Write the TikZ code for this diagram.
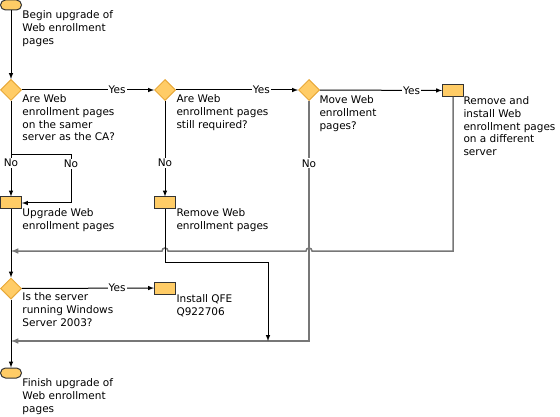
\documentclass[tikz,border=0pt]{standalone}
\usepackage{fontspec}
\setmainfont{DejaVu Sans}
\usetikzlibrary{shapes.geometric}
\definecolor{boxfill}{HTML}{FFCC66}
\definecolor{diaedge}{HTML}{E8A838}
\definecolor{backline}{HTML}{777777}
\begin{document}
\begin{tikzpicture}[x=1pt,y=-1pt,
  term/.style={draw=black!80,fill=boxfill,rounded corners=5pt,minimum width=21pt,minimum height=10pt,inner sep=0pt},
  proc/.style={draw=black!80,fill=boxfill,minimum width=21pt,minimum height=12pt,inner sep=0pt},
  decide/.style={diamond,draw=diaedge,fill=boxfill,minimum width=21pt,minimum height=21pt,inner sep=0pt},
  txt/.style={anchor=north west,align=left,inner sep=0pt,font=\fontsize{10.5}{12.8}\selectfont},
  lbl/.style={fill=white,text=black,inner sep=1pt,font=\fontsize{10.5}{12}\selectfont},
  back/.style={backline,line width=1.5pt},
  line width=1pt]
\useasboundingbox (0,0) rectangle (560,417);
\node [term] (start) at (11,5) {};
\node [decide] (d1) at (11,90) {};
\node [decide] (d2) at (165,90) {};
\node [decide] (d3) at (309,90) {};
\node [proc] (b4) at (453,90.5) {};
\node [proc] (bup) at (11,203) {};
\node [proc] (brm) at (165,203) {};
\node [decide] (d4) at (11,288.5) {};
\node [proc] (bqfe) at (165,288) {};
\node [term] (finish) at (11,373) {};
\node [txt] (tstart) at (22,10) {Begin upgrade of\\Web enrollment\\pages};
\node [txt] (td1) at (22,94) {Are Web\\enrollment pages\\on the samer\\server as the CA?};
\node [txt] (td2) at (176,94) {Are Web\\enrollment pages\\still required?};
\node [txt] (td3) at (319,95) {Move Web\\enrollment\\pages?};
\node [txt] (tb4) at (463,96) {Remove and\\install Web\\enrollment pages\\on a different\\server};
\node [txt] (tbup) at (22,208) {Upgrade Web\\enrollment pages};
\node [txt] (tbrm) at (176,208) {Remove Web\\enrollment pages};
\node [txt] (td4) at (22,292) {Is the server\\running Windows\\Server 2003?};
\node [txt] (tqfe) at (176,294) {Install QFE\\Q922706};
\node [txt] (tfin) at (22,378) {Finish upgrade of\\Web enrollment\\pages};
\coordinate (br) at (11,155);
\coordinate (m1) at (11,251);
\coordinate (m2) at (11,341);
\coordinate (m3) at (268,341);
% back lines
\path (d2 |- m1) coordinate (j2) (d3 |- m1) coordinate (j3);
\draw [back,-latex] (b4.south) |- ([xshift=3pt]j3) arc[start angle=0,end angle=180,radius=3pt]
  -- ([xshift=3pt]j2) arc[start angle=0,end angle=180,radius=3pt] -- (m1);
\draw [back,-latex] (d3.south) -- node[lbl,pos=.26]{No} (d3 |- m2) -- (m2);
% main flow
\draw [-latex] (start) -- (d1);
\draw [-latex] (d1) -- node[lbl,pos=.65]{No} (bup);
\draw [-latex] (br) -- ++(60,0) |- node[lbl,pos=.09]{No} (bup.east);
\draw [-latex] (d1) -- node[lbl,pos=.72]{Yes} (d2);
\draw [-latex] (d2) -- node[lbl,pos=.70]{Yes} (d3);
\draw [-latex] (d3) -- node[lbl,pos=.75]{Yes} (b4);
\draw [-latex] (d2) -- node[lbl,pos=.65]{No} (brm);
\draw [-latex] (brm.south) -- ++(0,53) -| (m3);
\draw [-latex] (bup) -- (d4);
\draw [-latex] (d4) -- node[lbl,pos=.72]{Yes} (bqfe);
\draw [-latex] (d4) -- (finish);
\end{tikzpicture}
\end{document}
